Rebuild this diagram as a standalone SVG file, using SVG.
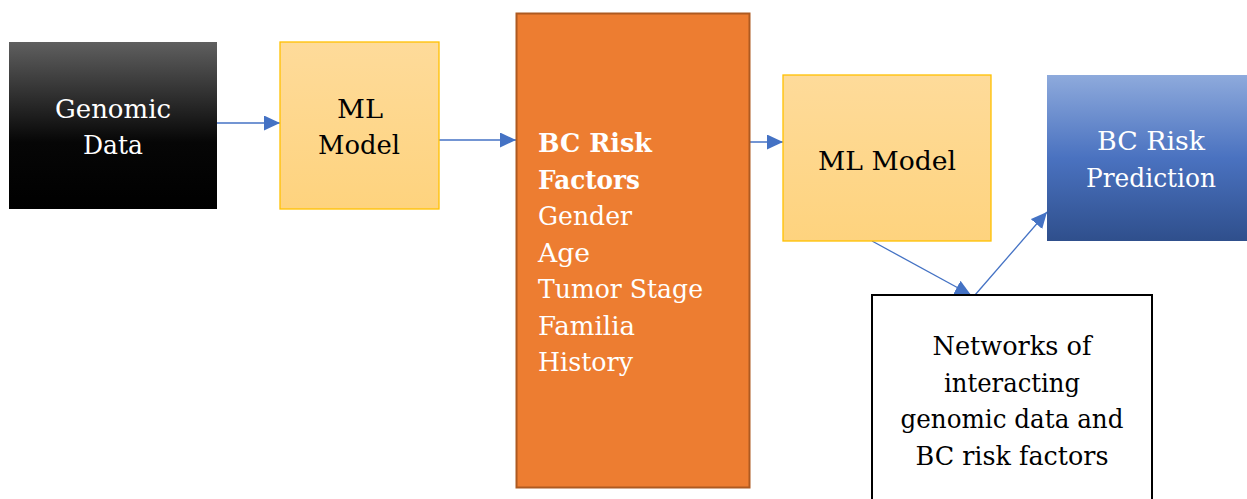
<svg xmlns="http://www.w3.org/2000/svg" width="1247" height="499" viewBox="0 0 1247 499" font-family="DejaVu Serif, Liberation Serif, Times New Roman, serif" font-size="26">
<style>
.w{fill:#fff}.k{fill:#000}
.c{text-anchor:middle}
.conn{stroke:#4472c4;stroke-width:1.3;fill:none}
.ml{fill:url(#gy);stroke:#ffc000;stroke-width:1.3}
</style>
<defs>
<linearGradient id="gk" x1="0" y1="0" x2="0" y2="1"><stop offset="0" stop-color="#5f5f5f"/><stop offset="0.6" stop-color="#060606"/><stop offset="1" stop-color="#000"/></linearGradient>
<linearGradient id="gy" x1="0" y1="0" x2="0" y2="1"><stop offset="0" stop-color="#fedb9a"/><stop offset="1" stop-color="#fed37e"/></linearGradient>
<linearGradient id="gb" x1="0" y1="0" x2="0" y2="1"><stop offset="0" stop-color="#8eaadc"/><stop offset="0.5" stop-color="#4a72c0"/><stop offset="1" stop-color="#2f4f8c"/></linearGradient>
<marker id="ah" viewBox="0 0 16 15" refX="16" refY="7.5" markerWidth="16" markerHeight="15" markerUnits="userSpaceOnUse" orient="auto"><path d="M0,0L16,7.5L0,15z" fill="#4472c4"/></marker>
</defs>
<g id="connectors">
<line class="conn" x1="217" y1="123" x2="280" y2="123" marker-end="url(#ah)"/>
<line class="conn" x1="439" y1="140" x2="516" y2="140" marker-end="url(#ah)"/>
<line class="conn" x1="705" y1="142" x2="783" y2="142" marker-end="url(#ah)"/>
<line class="conn" x1="872" y1="241" x2="971" y2="295" marker-end="url(#ah)"/>
<line class="conn" x1="975" y1="295" x2="1047" y2="212" marker-end="url(#ah)"/>
</g>
<g id="genomic">
<rect x="9" y="42" width="208" height="167" fill="url(#gk)"/>
<text class="w c" x="113" y="118" textLength="116" lengthAdjust="spacingAndGlyphs">Genomic</text>
<text class="w c" x="113" y="154" textLength="60" lengthAdjust="spacingAndGlyphs">Data</text>
</g>
<g id="ml1">
<rect class="ml" x="280" y="42" width="159" height="167"/>
<text class="k c" x="360" y="118" textLength="46" lengthAdjust="spacingAndGlyphs">ML</text>
<text class="k c" x="359" y="154" textLength="82" lengthAdjust="spacingAndGlyphs">Model</text>
</g>
<g id="risk-factors">
<rect x="516.5" y="13.5" width="233" height="474" fill="#ed7d31" stroke="#ae5a21" stroke-width="2"/>
<text class="w" x="538" y="152" font-weight="bold" textLength="114" lengthAdjust="spacingAndGlyphs">BC Risk</text>
<text class="w" x="538" y="189" font-weight="bold" textLength="102" lengthAdjust="spacingAndGlyphs">Factors</text>
<text class="w" x="538" y="225" textLength="94" lengthAdjust="spacingAndGlyphs">Gender</text>
<text class="w" x="538" y="262" textLength="52" lengthAdjust="spacingAndGlyphs">Age</text>
<text class="w" x="538" y="298" textLength="165" lengthAdjust="spacingAndGlyphs">Tumor Stage</text>
<text class="w" x="538" y="335" textLength="97" lengthAdjust="spacingAndGlyphs">Familia</text>
<text class="w" x="538" y="371" textLength="95" lengthAdjust="spacingAndGlyphs">History</text>
</g>
<g id="ml2">
<rect class="ml" x="783" y="75" width="208" height="166"/>
<text class="k c" x="887" y="170" textLength="138" lengthAdjust="spacingAndGlyphs">ML Model</text>
</g>
<g id="prediction">
<rect x="1047" y="75" width="200" height="166" fill="url(#gb)"/>
<text class="w c" x="1151" y="150" textLength="108" lengthAdjust="spacingAndGlyphs">BC Risk</text>
<text class="w c" x="1151" y="187" textLength="130" lengthAdjust="spacingAndGlyphs">Prediction</text>
</g>
<g id="networks">
<rect x="872" y="295" width="280" height="210" fill="#fff" stroke="#000" stroke-width="2"/>
<text class="k c" x="1012" y="355" textLength="159" lengthAdjust="spacingAndGlyphs">Networks of</text>
<text class="k c" x="1012" y="392" textLength="136" lengthAdjust="spacingAndGlyphs">interacting</text>
<text class="k c" x="1012" y="428" textLength="223" lengthAdjust="spacingAndGlyphs">genomic data and</text>
<text class="k c" x="1012" y="465" textLength="193" lengthAdjust="spacingAndGlyphs">BC risk factors</text>
</g>
</svg>
